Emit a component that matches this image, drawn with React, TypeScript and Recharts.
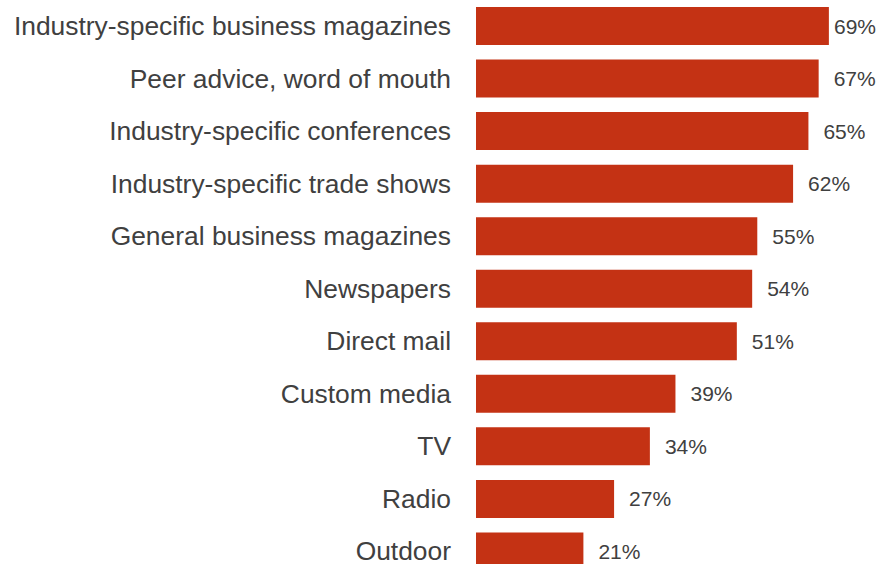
import React from "react";
import { BarChart, Bar, XAxis, YAxis, LabelList } from "recharts";

const categories = [
  "Industry-specific business magazines",
  "Peer advice, word of mouth",
  "Industry-specific conferences",
  "Industry-specific trade shows",
  "General business magazines",
  "Newspapers",
  "Direct mail",
  "Custom media",
  "TV",
  "Radio",
  "Outdoor",
];
const values = [69, 67, 65, 62, 55, 54, 51, 39, 34, 27, 21];

const data = categories.map((name, i) => ({ name, value: values[i] }));

const FONT = "'Liberation Sans', Arial, Helvetica, sans-serif";
const TEXT = "#404040";
const BAR = "#C43214";

const CategoryTick = (props: any) => {
  const { x, y, payload } = props;
  return (
    <text
      x={x}
      y={y}
      dy="0.33em"
      textAnchor="end"
      fill={TEXT}
      fontFamily={FONT}
      fontSize={26.4}
    >
      {payload.value}
    </text>
  );
};

const ValueLabel = (props: any) => {
  const { x, y, width, height, value } = props;
  const tx = Math.min(x + width + 15, 834);
  return (
    <text
      x={tx}
      y={y + height / 2}
      dy="0.36em"
      textAnchor="start"
      fill={TEXT}
      fontFamily={FONT}
      fontSize={21}
    >
      {`${value}%`}
    </text>
  );
};

export default function App() {
  return (
    <div
      style={{
        position: "fixed",
        left: 0,
        top: 0,
        width: 879,
        height: 564,
        overflow: "hidden",
        background: "#fff",
      }}
    >
      <BarChart
        width={879}
        height={578}
        data={data}
        layout="vertical"
        margin={{ top: 0, right: 45, bottom: 0, left: 0 }}
        barSize={38}
      >
        <XAxis type="number" domain={[0, 70]} hide />
        <YAxis
          type="category"
          dataKey="name"
          width={476}
          axisLine={false}
          tickLine={false}
          tickSize={0}
          tickMargin={25}
          interval={0}
          tick={<CategoryTick />}
        />
        <Bar dataKey="value" fill={BAR} isAnimationActive={false}>
          <LabelList dataKey="value" content={<ValueLabel />} />
        </Bar>
      </BarChart>
    </div>
  );
}
